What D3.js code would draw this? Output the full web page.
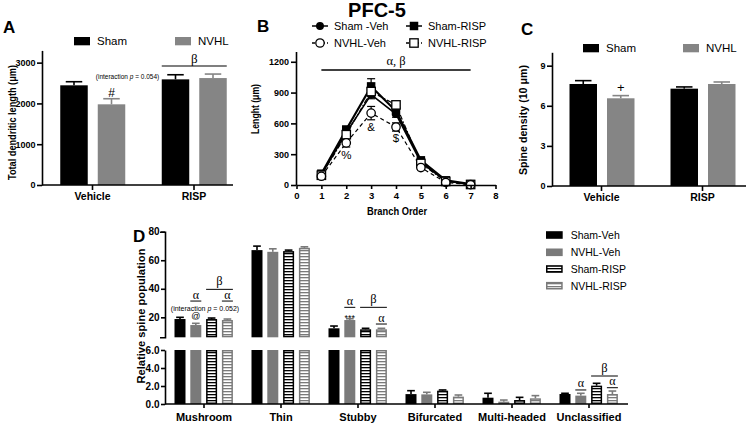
<!DOCTYPE html>
<html><head><meta charset="utf-8">
<script src="https://cdn.jsdelivr.net/npm/d3@7"></script>
<style>body{margin:0;background:#fff}svg{display:block}</style>
</head><body><svg id="c" width="754" height="423"></svg>
<script>
// ---------- DATA ----------
// Panel A / C
const groupsAC = ["Vehicle", "RISP"];
const seriesAC = ["Sham", "NVHL"];
const lengthMean = [[2444, 1978], [2590, 2622]];
const lengthErr = [[88, 137], [113, 98]];
const densityMean = [[7.63, 6.56], [7.28, 7.63]];
const densityErr = [[0.25, 0.2], [0.13, 0.15]];
const ticksA = [0, 1000, 2000, 3000];
const ticksC = [0, 3, 6, 9];
// Panel B
const branchOrder = [1, 2, 3, 4, 5, 6, 7];
const seriesB = ["Sham -Veh", "Sham-RISP", "NVHL-Veh", "NVHL-RISP"];
const shamVehB = [100, 510, 880, 690, 220, 40, 5];
const shamRispB = [110, 540, 960, 720, 240, 45, 8];
const nvhlVehB = [85, 410, 700, 565, 170, 25, 3];
const nvhlRispB = [95, 490, 910, 780, 210, 35, 5];
const shamVehBErr = [10, 20, 40, 30, 15, 8, 3];
const shamRispBErr = [15, 30, 75, 40, 20, 8, 3];
const nvhlVehBErr = [10, 40, 65, 40, 20, 8, 3];
const nvhlRispBErr = [10, 30, 50, 30, 15, 8, 3];
const ticksBx = [0, 1, 2, 3, 4, 5, 6, 7, 8];
const ticksBy = [0, 300, 600, 900, 1200];
// Panel D
const categoriesD = ["Mushroom", "Thin", "Stubby", "Bifurcated", "Multi-headed", "Unclassified"];
const seriesD = ["Sham-Veh", "NVHL-Veh", "Sham-RISP", "NVHL-RISP"];
const shamVehD = [18.8, 67.1, 12.3, 1.1, 0.7, 1.11];
const nvhlVehD = [14.6, 65.9, 18.1, 1.07, 0.26, 0.93];
const shamRispD = [18.8, 66.4, 11.6, 1.48, 0.44, 2.04];
const nvhlRispD = [18.1, 68.7, 11.6, 0.82, 0.63, 1.11];
const shamVehDErr = [1.2, 2.8, 1.6, 0.38, 0.49, 0.08];
const nvhlVehDErr = [1.2, 2.1, 0.9, 0.23, 0.18, 0.26];
const shamRispDErr = [0.7, 0.7, 0.7, 0.08, 0.3, 0.26];
const nvhlRispDErr = [0.7, 0.7, 0.7, 0.18, 0.3, 0.33];
const ticksDup = [20, 40, 60, 80];
const ticksDlow = [0, 2, 4, 6];

// ---------- SETUP ----------
const SANS = '"Liberation Sans", Arial, sans-serif';
const SERIF = '"Liberation Serif", "Times New Roman", serif';
const svg = d3.select("#c");
svg.append("rect").attr("width", 754).attr("height", 423).attr("fill", "#fff");
const defs = svg.append("defs");
function hatch(id, color) {
  const p = defs.append("pattern").attr("id", id).attr("patternUnits", "userSpaceOnUse")
    .attr("width", 6).attr("height", 3);
  p.append("rect").attr("width", 6).attr("height", 3).attr("fill", "#fff");
  p.append("rect").attr("y", 1).attr("width", 6).attr("height", 1.3).attr("fill", color);
}
hatch("hB", "#000");
hatch("hG", "#7a7a7a");

function styleAxis(g, fs) {
  g.attr("font-family", SANS).attr("font-size", fs || 9.5).attr("font-weight", "bold");
  g.selectAll("path,line").attr("stroke", "#000").attr("stroke-width", 1.6);
  g.selectAll("text").attr("fill", "#000");
}
function txt(x, y, s, o) {
  o = o || {};
  const t = svg.append("text").attr("x", x).attr("y", y).text(s)
    .attr("font-family", o.family || SANS).attr("font-size", o.size || 11)
    .attr("font-weight", o.weight || "normal").attr("fill", o.fill || "#000")
    .attr("text-anchor", o.anchor || "start");
  if (o.italic) t.attr("font-style", "italic");
  if (o.len) t.attr("textLength", o.len).attr("lengthAdjust", "spacingAndGlyphs");
  if (o.rot) t.attr("transform", `rotate(-90,${x},${y})`);
  return t;
}
// centred run of text pieces (some italic), laid out side by side
function richText(cx, y, pieces, size) {
  const nodes = pieces.map(([s, it]) => txt(0, y, s, { size: size, italic: it }).attr("xml:space", "preserve"));
  const widths = nodes.map(n => n.node().getComputedTextLength());
  let x0 = cx - d3.sum(widths) / 2;
  nodes.forEach((n, i) => { n.attr("x", x0); x0 += widths[i]; });
}
function hline(x1, x2, y, w) {
  svg.append("line").attr("x1", x1).attr("x2", x2).attr("y1", y).attr("y2", y)
    .attr("stroke", "#000").attr("stroke-width", w || 1.2);
}
function errBar(cx, y0, y1, half, color) {
  svg.append("line").attr("x1", cx).attr("x2", cx).attr("y1", y0).attr("y2", y1)
    .attr("stroke", color).attr("stroke-width", 1.6);
  svg.append("line").attr("x1", cx - half).attr("x2", cx + half).attr("y1", y1).attr("y2", y1)
    .attr("stroke", color).attr("stroke-width", 1.6);
}

// ---------- PANEL A & C (grouped bars) ----------
const colorsAC = ["#000", "#858585"];
function groupedPanel(cfg) {
  const y = d3.scaleLinear().domain(cfg.ydom).range([cfg.y0, cfg.ytop]);
  const x = d3.scaleBand().domain(groupsAC).range(cfg.xr);
  const s = d3.scaleBand().domain(seriesAC).range([18.5, 83.5]).paddingInner(0.267);
  const w = s.bandwidth();
  groupsAC.forEach((g, gi) => seriesAC.forEach((sr, si) => {
    const v = cfg.mean[gi][si], e = cfg.err[gi][si];
    const x0 = x(g) + s(sr);
    errBar(x0 + w / 2, y(v), y(v + e), w * 0.3, colorsAC[si]);
    svg.append("rect").attr("x", x0).attr("y", y(v)).attr("width", w)
      .attr("height", y(0) - y(v)).attr("fill", colorsAC[si]);
  }));
  const ga = svg.append("g").attr("transform", `translate(${cfg.axX},0)`)
    .call(d3.axisLeft(y).tickValues(cfg.ticks).tickSize(5).tickSizeOuter(0).tickPadding(1.5).tickFormat(d3.format("d")));
  styleAxis(ga, 9);
  const gx = svg.append("g").attr("transform", `translate(0,${cfg.y0})`)
    .call(d3.axisBottom(x).tickSize(5).tickSizeOuter(0).tickPadding(3));
  styleAxis(gx, 10.5);
  gx.select("path.domain").attr("d", `M${cfg.axX},0H${cfg.axEnd}`);
  seriesAC.forEach((sr, si) => {
    svg.append("rect").attr("x", cfg.legX[si]).attr("y", cfg.legY - 8).attr("width", 16).attr("height", 8.3)
      .attr("fill", colorsAC[si]);
    txt(cfg.legX[si] + 23, cfg.legY, sr, { size: 11.5 });
  });
  return { x, s, y, w };
}

const A = groupedPanel({ ydom: [0, 3300], y0: 185, ytop: 50.4, xr: [41.75, 244.75], axX: 42, axEnd: 233,
  mean: lengthMean, err: lengthErr, ticks: ticksA, legX: [74, 175], legY: 45 });
txt(3, 33, "A", { size: 17, weight: "bold" });
txt(15.5, 122.5, "Total dendritic length (μm)", { size: 10.5, weight: "bold", anchor: "middle", len: 115, rot: true });
{
  const gx = A.x("RISP");
  const ly = A.y(2917);
  hline(gx + A.s("Sham"), gx + A.s("NVHL") + A.w, ly, 1.2);
  txt(gx + A.s.step() + 18.5 - 5, ly - 3, "β", { family: SERIF, size: 13, anchor: "middle" });
  const nx = A.x("Vehicle") + A.s("NVHL") + A.w / 2;
  txt(nx, A.y(2150), "#", { size: 12, anchor: "middle" });
  richText(nx + 16, A.y(2610), [["(interaction ", false], ["p", true], [" = 0.054)", false]], 6.5);
}

const C = groupedPanel({ ydom: [0, 10], y0: 186, ytop: 52.3, xr: [551, 753], axX: 552, axEnd: 746,
  mean: densityMean, err: densityErr, ticks: ticksC, legX: [583, 683], legY: 52 });
txt(521, 35, "C", { size: 17, weight: "bold" });
txt(527, 120, "Spine density (10 μm)", { size: 10.5, weight: "bold", anchor: "middle", len: 110, rot: true });
txt(C.x("Vehicle") + C.s("NVHL") + C.w / 2, C.y(7.03), "+", { size: 13, anchor: "middle" });

// ---------- PANEL B (lines) ----------
{
  const x = d3.scaleLinear().domain([0, 8]).range([296.5, 495.5]);
  const y = d3.scaleLinear().domain([0, 1300]).range([185, 51.5]);
  const data = [shamVehB, shamRispB, nvhlVehB, nvhlRispB];
  const errs = [shamVehBErr, shamRispBErr, nvhlVehBErr, nvhlRispBErr];
  const styles = [
    { dash: null, w: 1.6, mark: "circle", fill: "#000" },
    { dash: null, w: 2.2, mark: "square", fill: "#000" },
    { dash: "4,3", w: 1.2, mark: "circle", fill: "#fff" },
    { dash: "5,2,1.5,2", w: 1.2, mark: "square", fill: "#fff" }
  ];
  const line = d3.line().x((d, i) => x(branchOrder[i])).y(d => y(d));
  function marker(cx, cy, st) {
    if (st.mark === "circle") {
      svg.append("circle").attr("cx", cx).attr("cy", cy).attr("r", st.fill === "#fff" ? 4.2 : 3.3)
        .attr("fill", st.fill).attr("stroke", "#000").attr("stroke-width", 1.3);
    } else {
      const h = st.fill === "#fff" ? 4.2 : 3.6;
      svg.append("rect").attr("x", cx - h).attr("y", cy - h).attr("width", 2 * h).attr("height", 2 * h)
        .attr("fill", st.fill).attr("stroke", "#000").attr("stroke-width", 1.3);
    }
  }
  data.forEach((d, k) => d.forEach((v, i) => {
    const cx = x(branchOrder[i]);
    svg.append("line").attr("x1", cx).attr("x2", cx).attr("y1", y(v - errs[k][i])).attr("y2", y(v + errs[k][i]))
      .attr("stroke", "#000").attr("stroke-width", 1.2);
    [v - errs[k][i], v + errs[k][i]].forEach(e => svg.append("line").attr("x1", cx - 4).attr("x2", cx + 4)
      .attr("y1", y(e)).attr("y2", y(e)).attr("stroke", "#000").attr("stroke-width", 1.2));
  }));
  [2, 3, 0, 1].forEach(k => {
    svg.append("path").attr("d", line(data[k])).attr("fill", "none").attr("stroke", "#000")
      .attr("stroke-width", styles[k].w).attr("stroke-dasharray", styles[k].dash);
  });
  [0, 1, 3, 2].forEach(k => data[k].forEach((v, i) => marker(x(branchOrder[i]), y(v), styles[k])));
  const gy = svg.append("g").attr("transform", "translate(296,0)")
    .call(d3.axisLeft(y).tickValues(ticksBy).tickSize(5).tickSizeOuter(0).tickPadding(2).tickFormat(d3.format("d")));
  styleAxis(gy, 9);
  const gx = svg.append("g").attr("transform", "translate(0,185)")
    .call(d3.axisBottom(x).tickValues(ticksBx).tickSize(4).tickSizeOuter(0).tickPadding(3).tickFormat(d3.format("d")));
  styleAxis(gx, 9.5);
  txt(397, 215, "Branch Order", { size: 10.5, weight: "bold", anchor: "middle", len: 60 });
  txt(259, 109, "Lenght (μm)", { size: 10.5, weight: "bold", anchor: "middle", len: 50, rot: true });
  txt(377, 17, "PFC-5", { size: 20, weight: "bold", anchor: "middle" });
  txt(257, 31.7, "B", { size: 17, weight: "bold" });
  const ly = y(1120);
  hline(x(1), x(7), ly, 1.3);
  txt(x(4), ly - 5, "α, β", { family: SERIF, size: 12.5, anchor: "middle" });
  txt(x(2), y(253), "%", { size: 11.5, anchor: "middle" });
  txt(x(3), y(526), "&", { size: 11.5, anchor: "middle" });
  txt(x(4), y(419), "$", { size: 11.5, anchor: "middle" });
  const legPos = [[312, 26], [406, 26], [312, 43], [406, 43]];
  seriesB.forEach((name, k) => {
    const [lx, lyy] = legPos[k];
    svg.append("line").attr("x1", lx).attr("x2", lx + 16).attr("y1", lyy).attr("y2", lyy)
      .attr("stroke", "#000").attr("stroke-width", 1.5).attr("stroke-dasharray", k >= 2 ? "3,2" : null);
    marker(lx + 8, lyy, styles[k]);
    txt(lx + 22, lyy + 4, name, { size: 11 });
  });
}

// ---------- PANEL D (broken-axis bars) ----------
{
  const vals = [shamVehD, nvhlVehD, shamRispD, nvhlRispD];
  const errs = [shamVehDErr, nvhlVehDErr, shamRispDErr, nvhlRispDErr];
  const fills = ["#000", "#7a7a7a", "url(#hB)", "url(#hG)"];
  const strokes = [null, null, "#000", "#7a7a7a"];
  const errCol = ["#000", "#7a7a7a", "#000", "#7a7a7a"];
  const x = d3.scaleBand().domain(categoriesD).range([165.5, 627.5]);
  const s = d3.scaleBand().domain(seriesD).range([9, 67.4]).paddingInner(0.304);
  const w = s.bandwidth();
  const BREAK = 6;
  const yUp = d3.scaleLinear().domain([BREAK, 80]).range([337.3, 231.7]);
  const yLo = d3.scaleLinear().domain([0, BREAK]).range([404, 350]);
  function rectB(x0, y0, y1, k) {
    const inset = strokes[k] ? 0.75 : 0;
    const r = svg.append("rect").attr("x", x0 + inset).attr("y", y0 + inset).attr("width", w - 2 * inset)
      .attr("height", Math.max(0, y1 - y0 - 2 * inset)).attr("fill", fills[k]);
    if (strokes[k]) r.attr("stroke", strokes[k]).attr("stroke-width", 1.5);
  }
  categoriesD.forEach((c, ci) => seriesD.forEach((sr, k) => {
    const v = vals[k][ci], e = errs[k][ci];
    const x0 = x(c) + s(sr);
    const ys = v > BREAK ? yUp : yLo;
    errBar(x0 + w / 2, ys(v), ys(v + e), w * 0.35, errCol[k]);
    if (v > BREAK) {
      rectB(x0, yUp(v), yUp(BREAK), k);
      rectB(x0, yLo(BREAK), yLo(0), k);
    } else {
      rectB(x0, yLo(v), yLo(0), k);
    }
  }));
  const gU = svg.append("g").attr("transform", "translate(165,0)")
    .call(d3.axisLeft(yUp).tickValues(ticksDup).tickSize(4).tickSizeOuter(5).tickPadding(1.5));
  styleAxis(gU, 10);
  const gL = svg.append("g").attr("transform", "translate(165,0)")
    .call(d3.axisLeft(yLo).tickValues(ticksDlow).tickSize(4).tickSizeOuter(0).tickPadding(1.5));
  styleAxis(gL, 10);
  const gx = svg.append("g").attr("transform", "translate(0,404)")
    .call(d3.axisBottom(x).tickSize(4).tickSizeOuter(0).tickPadding(5));
  styleAxis(gx, 11);
  gx.select("path.domain").attr("d", "M165,0H628");
  txt(133, 242, "D", { size: 17, weight: "bold" });
  txt(145, 316, "Relative spine population", { size: 11.5, weight: "bold", anchor: "middle", len: 135, rot: true });

  const ann = [
    ["Mushroom", 1, 1, 31.4, "α", "up"],
    ["Mushroom", 2, 3, 39.6, "β", "up"],
    ["Mushroom", 3, 3, 31.4, "α", "up"],
    ["Stubby", 1, 1, 27.0, "α", "up"],
    ["Stubby", 2, 3, 27.0, "β", "up"],
    ["Stubby", 3, 3, 15.3, "α", "up"],
    ["Unclassified", 1, 1, 1.56, "α", "lo"],
    ["Unclassified", 2, 3, 3.11, "β", "lo"],
    ["Unclassified", 3, 3, 1.81, "α", "lo"]
  ];
  ann.forEach(([c, a, b, v, lab, sc]) => {
    const ys = sc === "up" ? yUp : yLo;
    const x1 = x(c) + s(seriesD[a]), x2 = x(c) + s(seriesD[b]) + w;
    hline(x1, x2, ys(v), 1);
    txt((x1 + x2) / 2, ys(v) - (lab === "β" ? 4 : 2.5), lab, { family: SERIF, size: lab === "β" ? 12.5 : 12, anchor: "middle" });
  });
  const nvx = x("Mushroom") + s("NVHL-Veh") + w / 2;
  txt(nvx, yUp(18.8), "@", { size: 9, anchor: "middle" });
  richText(x("Mushroom") + 39.5, yUp(24.1), [["(interaction ", false], ["p", true], [" = 0.052)", false]], 7);
  txt(x("Stubby") + s("NVHL-Veh") + w / 2, yUp(17.2), "***", { size: 9, anchor: "middle" });

  const legY = [235, 252.3, 269, 285.7];
  seriesD.forEach((sr, k) => {
    const inset = strokes[k] ? 0.75 : 0;
    const r = svg.append("rect").attr("x", 546 + inset).attr("y", legY[k] - 3.8 + inset)
      .attr("width", 16.7 - 2 * inset).attr("height", 7.6 - 2 * inset).attr("fill", fills[k]);
    if (strokes[k]) r.attr("stroke", strokes[k]).attr("stroke-width", 1.5);
    txt(570.7, legY[k] + 3.8, sr, { size: 10.5 });
  });
}
</script></body></html>
